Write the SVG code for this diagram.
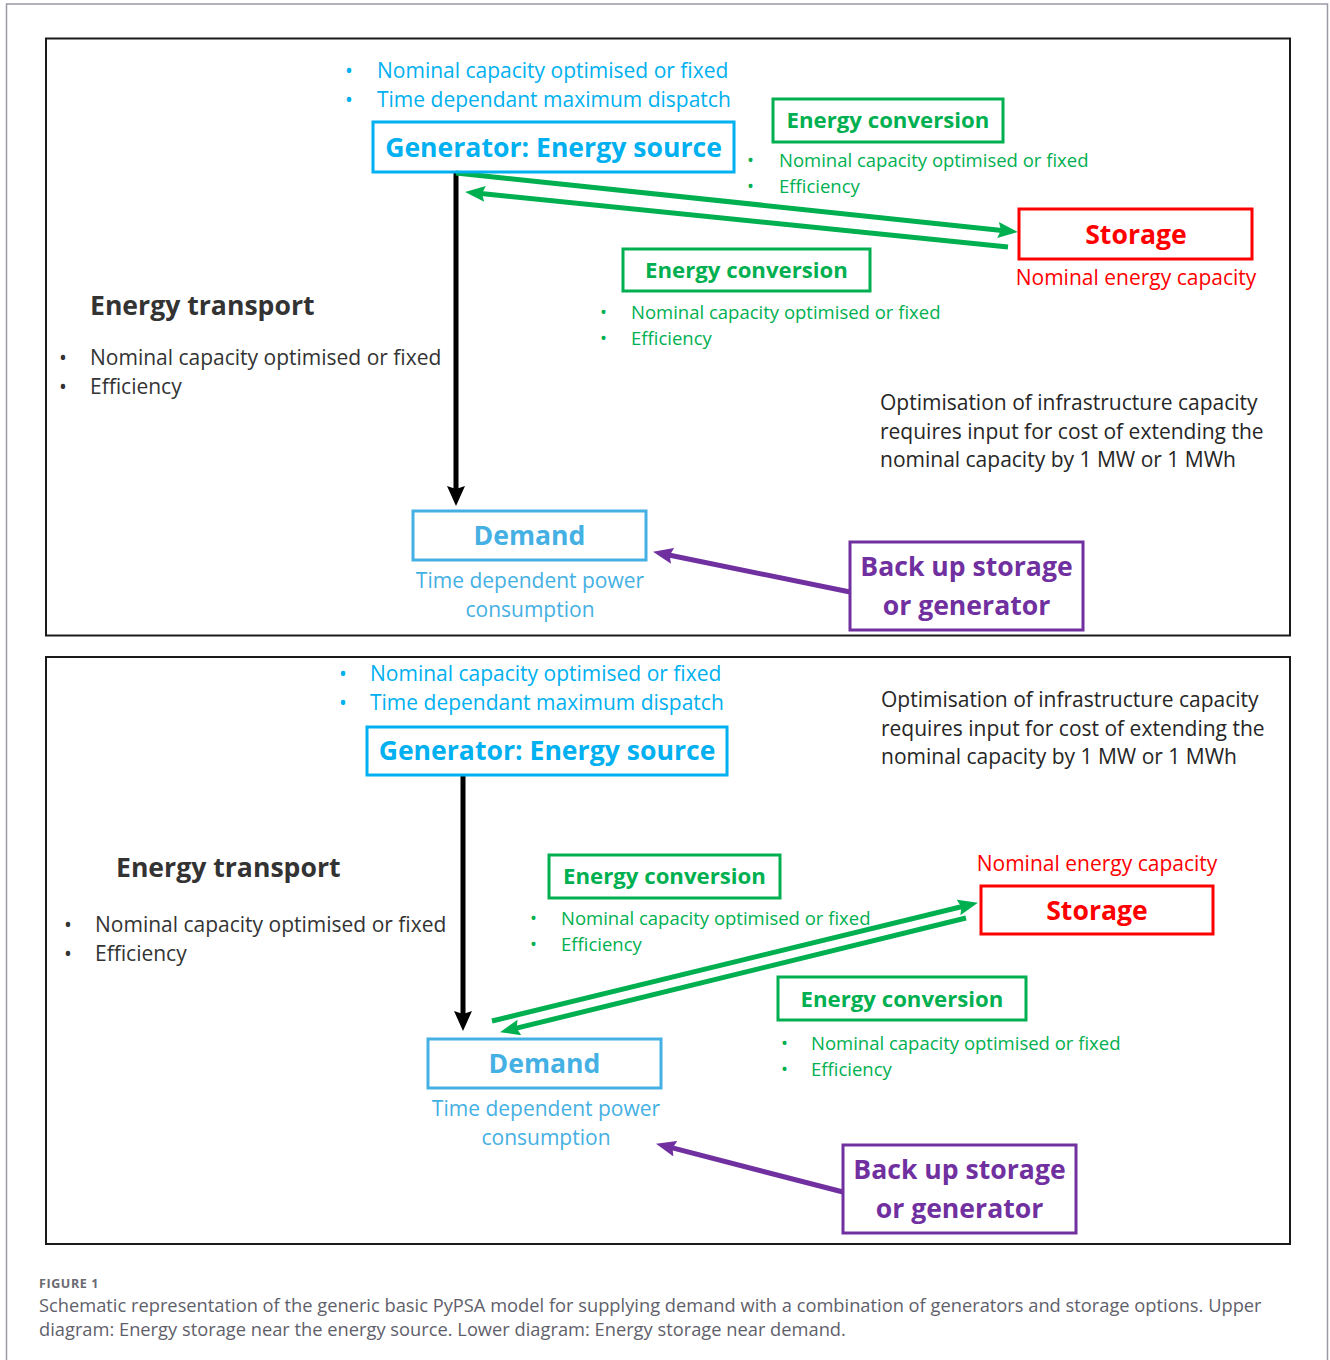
<svg xmlns="http://www.w3.org/2000/svg" width="1330" height="1360" viewBox="0 0 1330 1360">
<defs>
<style>
text{font-family:"Open Sans","Noto Sans","Liberation Sans",sans-serif}
.gen{fill:none;stroke:#00b0f0;stroke-width:3}
.genT{fill:#00b0f0}
.grn{fill:none;stroke:#00b050;stroke-width:3}
.grnT{fill:#00b050}
.red{fill:none;stroke:#ff0000;stroke-width:3}
.redT{fill:#ff0000}
.dem{fill:none;stroke:#45b0e3;stroke-width:3}
.demT{fill:#45b0e3}
.pur{fill:none;stroke:#7030a0;stroke-width:3}
.purT{fill:#7030a0}
.title{font-weight:bold;font-size:26.6px}
.ectitle{font-weight:bold;font-size:22.2px}
.b20{font-size:21px}
.b18{font-size:18.5px}
.dark{fill:#333333}
.opt{fill:#262626;font-size:21px}
.panel{fill:none;stroke:#1a1a1a;stroke-width:2}
.cg{stroke:#00b050;stroke-width:5;fill:none}
.cb{stroke:#000;stroke-width:5;fill:none}
.cp{stroke:#7030a0;stroke-width:5;fill:none}
</style>
<marker id="ag" markerUnits="userSpaceOnUse" markerWidth="20" markerHeight="16" viewBox="0 0 20 16" refX="4" refY="8" orient="auto"><path d="M0,0 L20,8 L0,16 L3,8 z" fill="#00b050"/></marker>
<marker id="ab" markerUnits="userSpaceOnUse" markerWidth="20" markerHeight="18" viewBox="0 0 20 18" refX="4" refY="9" orient="auto"><path d="M0,0 L20,9 L0,18 L3,9 z" fill="#000"/></marker>
<marker id="ap" markerUnits="userSpaceOnUse" markerWidth="20" markerHeight="16" viewBox="0 0 20 16" refX="4" refY="8" orient="auto"><path d="M0,0 L20,8 L0,16 L3,8 z" fill="#7030a0"/></marker>
</defs>
<rect width="1330" height="1360" fill="#fff"/>
<path d="M6.5,1360 V4 H1327.5 V1360" fill="none" stroke="#9a9aa6" stroke-width="1.5"/>
<rect class="panel" x="46" y="38.5" width="1244" height="597"/>
<rect class="panel" x="46" y="657" width="1244" height="587"/>

<g id="connectors">
<line class="cb" x1="456" y1="172" x2="456" y2="490" marker-end="url(#ab)"/>
<line class="cg" x1="456" y1="173" x2="1002" y2="230.4" marker-end="url(#ag)"/>
<line class="cg" x1="1008" y1="247" x2="481" y2="193.5" marker-end="url(#ag)"/>
<line class="cp" x1="850" y1="592" x2="668.7" y2="555" marker-end="url(#ap)"/>
<line class="cb" x1="463" y1="775" x2="463" y2="1015" marker-end="url(#ab)"/>
<line class="cg" x1="492" y1="1021" x2="962.4" y2="906.5" marker-end="url(#ag)"/>
<line class="cg" x1="966" y1="918" x2="515.6" y2="1028.4" marker-end="url(#ag)"/>
<line class="cp" x1="843" y1="1192" x2="671.5" y2="1147.7" marker-end="url(#ap)"/>
</g>

<!-- Upper diagram -->
<g id="gen1">
<text class="genT b20" x="345" y="78">•</text>
<text class="genT b20" x="377" y="78">Nominal capacity optimised or fixed</text>
<text class="genT b20" x="345" y="107">•</text>
<text class="genT b20" x="377" y="107">Time dependant maximum dispatch</text>
<rect class="gen" x="373" y="122" width="361" height="50"/>
<text class="genT title" x="553.5" y="157" text-anchor="middle">Generator: Energy source</text>
</g>
<g id="ec1a">
<rect class="grn" x="773" y="99" width="230" height="43"/>
<text class="grnT ectitle" x="888" y="128" text-anchor="middle">Energy conversion</text>
<text class="grnT b18" x="747" y="167">•</text>
<text class="grnT b18" x="779" y="167">Nominal capacity optimised or fixed</text>
<text class="grnT b18" x="747" y="193">•</text>
<text class="grnT b18" x="779" y="193">Efficiency</text>
</g>
<g id="storage1">
<rect class="red" x="1019" y="209" width="233" height="50"/>
<text class="redT title" x="1136" y="244" text-anchor="middle">Storage</text>
<text class="redT b20" x="1136" y="285" text-anchor="middle">Nominal energy capacity</text>
</g>
<g id="ec1b">
<rect class="grn" x="623" y="249" width="247" height="42"/>
<text class="grnT ectitle" x="746.5" y="278" text-anchor="middle">Energy conversion</text>
<text class="grnT b18" x="600" y="319">•</text>
<text class="grnT b18" x="631" y="319">Nominal capacity optimised or fixed</text>
<text class="grnT b18" x="600" y="345">•</text>
<text class="grnT b18" x="631" y="345">Efficiency</text>
</g>
<g id="transport1">
<text class="dark title" x="90" y="315">Energy transport</text>
<text class="dark b20" x="59" y="365">•</text>
<text class="dark b20" x="90" y="365">Nominal capacity optimised or fixed</text>
<text class="dark b20" x="59" y="394">•</text>
<text class="dark b20" x="90" y="394">Efficiency</text>
</g>
<g id="opt1">
<text class="opt" x="880" y="410">Optimisation of infrastructure capacity</text>
<text class="opt" x="880" y="439">requires input for cost of extending the</text>
<text class="opt" x="880" y="467">nominal capacity by 1 MW or 1 MWh</text>
</g>
<g id="demand1">
<rect class="dem" x="413" y="511" width="233" height="49"/>
<text class="demT title" x="529.5" y="545" text-anchor="middle">Demand</text>
<text class="demT b20" x="530" y="588" text-anchor="middle">Time dependent power</text>
<text class="demT b20" x="530" y="617" text-anchor="middle">consumption</text>
</g>
<g id="backup1">
<rect class="pur" x="850" y="542" width="233" height="88"/>
<text class="purT title" x="966.5" y="576" text-anchor="middle">Back up storage</text>
<text class="purT title" x="966.5" y="615" text-anchor="middle">or generator</text>
</g>

<!-- Lower diagram -->
<g id="gen2">
<text class="genT b20" x="339" y="681">•</text>
<text class="genT b20" x="370" y="681">Nominal capacity optimised or fixed</text>
<text class="genT b20" x="339" y="710">•</text>
<text class="genT b20" x="370" y="710">Time dependant maximum dispatch</text>
<rect class="gen" x="367" y="727" width="360" height="48"/>
<text class="genT title" x="547" y="760" text-anchor="middle">Generator: Energy source</text>
</g>
<g id="opt2">
<text class="opt" x="881" y="707">Optimisation of infrastructure capacity</text>
<text class="opt" x="881" y="736">requires input for cost of extending the</text>
<text class="opt" x="881" y="764">nominal capacity by 1 MW or 1 MWh</text>
</g>
<g id="transport2">
<text class="dark title" x="116" y="877">Energy transport</text>
<text class="dark b20" x="64" y="932">•</text>
<text class="dark b20" x="95" y="932">Nominal capacity optimised or fixed</text>
<text class="dark b20" x="64" y="961">•</text>
<text class="dark b20" x="95" y="961">Efficiency</text>
</g>
<g id="ec2a">
<rect class="grn" x="549" y="855" width="231" height="43"/>
<text class="grnT ectitle" x="664.5" y="884" text-anchor="middle">Energy conversion</text>
<text class="grnT b18" x="530" y="925">•</text>
<text class="grnT b18" x="561" y="925">Nominal capacity optimised or fixed</text>
<text class="grnT b18" x="530" y="951">•</text>
<text class="grnT b18" x="561" y="951">Efficiency</text>
</g>
<g id="storage2">
<text class="redT b20" x="1097" y="871" text-anchor="middle">Nominal energy capacity</text>
<rect class="red" x="981" y="886" width="232" height="48"/>
<text class="redT title" x="1097" y="920" text-anchor="middle">Storage</text>
</g>
<g id="ec2b">
<rect class="grn" x="778" y="977" width="248" height="43"/>
<text class="grnT ectitle" x="902" y="1007" text-anchor="middle">Energy conversion</text>
<text class="grnT b18" x="781" y="1050">•</text>
<text class="grnT b18" x="811" y="1050">Nominal capacity optimised or fixed</text>
<text class="grnT b18" x="781" y="1076">•</text>
<text class="grnT b18" x="811" y="1076">Efficiency</text>
</g>
<g id="demand2">
<rect class="dem" x="428" y="1039" width="233" height="49"/>
<text class="demT title" x="544.5" y="1073" text-anchor="middle">Demand</text>
<text class="demT b20" x="546" y="1116" text-anchor="middle">Time dependent power</text>
<text class="demT b20" x="546" y="1145" text-anchor="middle">consumption</text>
</g>
<g id="backup2">
<rect class="pur" x="843" y="1145" width="233" height="88"/>
<text class="purT title" x="959.5" y="1179" text-anchor="middle">Back up storage</text>
<text class="purT title" x="959.5" y="1218" text-anchor="middle">or generator</text>
</g>

<g id="caption">
<text x="39" y="1288" font-size="12.5" letter-spacing="0.6" font-weight="bold" fill="#6a6a72">FIGURE 1</text>
<text x="39" y="1312" font-size="18.3" fill="#5f5f6b">Schematic representation of the generic basic PyPSA model for supplying demand with a combination of generators and storage options. Upper</text>
<text x="39" y="1336" font-size="18.3" fill="#5f5f6b">diagram: Energy storage near the energy source. Lower diagram: Energy storage near demand.</text>
</g>
</svg>
